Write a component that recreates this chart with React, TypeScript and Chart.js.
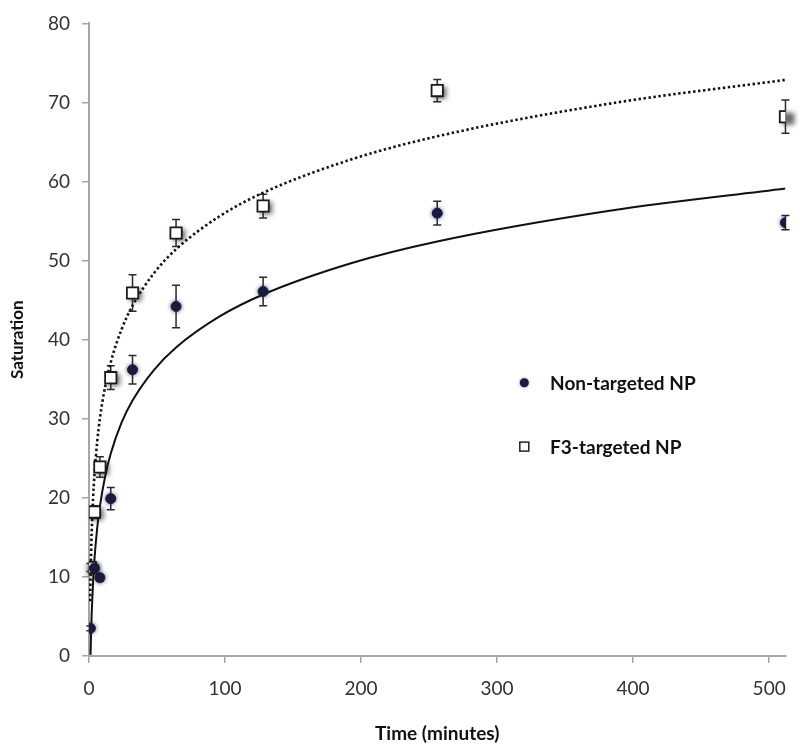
import React, { useEffect, useRef } from "react";
import { Chart, registerables } from "chart.js";

Chart.register(...registerables);

// Sampling times (minutes)
const times = [1, 4, 8, 16, 32, 64, 128, 256, 512];
// Non-targeted NP
const nonTargeted = [3.5, 11.1, 9.9, 19.9, 36.2, 44.2, 46.1, 56.0, 54.8];
const nonTargetedErr = [0.3, 0.5, 0.4, 1.4, 1.8, 2.7, 1.8, 1.5, 0.9];
// F3-targeted NP
const f3Targeted = [11.2, 18.2, 23.9, 35.2, 45.9, 53.5, 56.9, 71.5, 68.2];
const f3TargetedErr = [0.5, 0.8, 1.3, 1.5, 2.3, 1.7, 1.5, 1.4, 2.1];

// Trend curves
const solidTrendT = [1.15, 1.5, 2, 3, 4, 6, 8, 12, 16, 24, 32, 48, 64, 96, 128, 192, 256, 384, 512];
const solidTrendY = [0.15, 2.72, 5.5, 9.42, 12.2, 16.13, 18.91, 22.83, 25.61, 29.53, 32.32, 36.23, 39.02, 42.94, 45.72, 49.64, 52.42, 56.34, 59.12];
const dottedTrendT = [0.85, 1, 1.5, 2, 3, 4, 6, 8, 12, 16, 24, 32, 48, 64, 96, 128, 192, 256, 384, 512];
const dottedTrendY = [6.93, 8.6, 12.77, 15.74, 19.92, 22.88, 27.06, 30.02, 34.19, 37.16, 41.33, 44.3, 48.47, 51.44, 55.61, 58.58, 62.75, 65.72, 69.89, 72.86];

const xTicks = [0, 100, 200, 300, 400, 500];
const yTicks = [0, 10, 20, 30, 40, 50, 60, 70, 80];

const legendLabels = ["Non-targeted NP", "F3-targeted NP"];

const CIRCLE = "#1b1b3d";
const AXIS = "#a6a6a6";
const FONT = "Lato, 'Open Sans', sans-serif";

const errorBarPlugin = {
  id: "errorBars",
  beforeDatasetsDraw(chart: any) {
    const { ctx, scales } = chart;
    const xs = scales.x;
    const ys = scales.y;
    // soft shadows under the square markers (shadow only, shape drawn off-canvas)
    const OFF = 5000;
    ctx.save();
    ctx.fillStyle = "#000";
    ctx.shadowColor = "rgba(0,0,0,0.6)";
    ctx.shadowBlur = 5;
    ctx.shadowOffsetX = OFF + 3;
    ctx.shadowOffsetY = 2;
    f3Targeted.forEach((v, i) => {
      const x = xs.getPixelForValue(times[i]);
      const y = ys.getPixelForValue(v);
      ctx.fillRect(x - 6 - OFF, y - 6, 12, 12);
    });
    ctx.restore();

    const sets = [
      { vals: nonTargeted, errs: nonTargetedErr },
      { vals: f3Targeted, errs: f3TargetedErr },
    ];
    ctx.save();
    ctx.strokeStyle = "#2a2a2a";
    ctx.lineWidth = 1.5;
    sets.forEach((s) => {
      s.vals.forEach((v, i) => {
        const x = xs.getPixelForValue(times[i]);
        const y1 = ys.getPixelForValue(v - s.errs[i]);
        const y2 = ys.getPixelForValue(v + s.errs[i]);
        ctx.beginPath();
        ctx.moveTo(x, y1);
        ctx.lineTo(x, y2);
        ctx.moveTo(x - 4, y1);
        ctx.lineTo(x + 4, y1);
        ctx.moveTo(x - 4, y2);
        ctx.lineTo(x + 4, y2);
        ctx.stroke();
      });
    });
    ctx.restore();
  },
  beforeDatasetDraw(chart: any, args: any) {
    const ctx = chart.ctx;
    ctx.save();
    if (args.index === 0) {
      ctx.shadowColor = "rgba(30,30,90,0.6)";
      ctx.shadowBlur = 4;
      ctx.shadowOffsetX = 0;
      ctx.shadowOffsetY = 0;
    }
  },
  afterDatasetDraw(chart: any) {
    chart.ctx.restore();
  },
};

const customLegendPlugin = {
  id: "customLegend",
  afterDraw(chart: any) {
    const { ctx, chartArea } = chart;
    const w = chartArea.right - chartArea.left;
    const h = chartArea.bottom - chartArea.top;
    const mx = chartArea.left + w * 0.625;
    const tx = chartArea.left + w * 0.662;
    const y1 = chartArea.top + h * 0.568;
    const y2 = chartArea.top + h * 0.669;
    ctx.save();
    // circle
    ctx.fillStyle = CIRCLE;
    ctx.shadowColor = "rgba(30,30,90,0.5)";
    ctx.shadowBlur = 3;
    ctx.beginPath();
    ctx.arc(mx, y1, 4.5, 0, Math.PI * 2);
    ctx.fill();
    ctx.shadowBlur = 0;
    ctx.shadowColor = "transparent";
    // square
    ctx.fillStyle = "#fff";
    ctx.strokeStyle = "#222";
    ctx.lineWidth = 1.5;
    ctx.fillRect(mx - 4.5, y2 - 4.5, 9, 9);
    ctx.strokeRect(mx - 4.5, y2 - 4.5, 9, 9);
    ctx.fillStyle = "#111";
    ctx.font = `bold 19px ${FONT}`;
    ctx.textBaseline = "middle";
    ctx.textAlign = "left";
    ctx.fillText(legendLabels[0], tx, y1 + 1);
    ctx.fillText(legendLabels[1], tx, y2 + 1);
    ctx.restore();
  },
};

export default function App() {
  const ref = useRef<HTMLCanvasElement | null>(null);

  useEffect(() => {
    if (!ref.current) return;
    const chart = new Chart(ref.current, {
      type: "scatter",
      data: {
        datasets: [
          {
            label: legendLabels[0],
            data: times.map((t, i) => ({ x: t, y: nonTargeted[i] })),
            pointStyle: "circle",
            pointRadius: 5,
            pointBackgroundColor: CIRCLE,
            pointBorderColor: CIRCLE,
            pointBorderWidth: 1,
            showLine: false,
          },
          {
            label: legendLabels[1],
            data: times.map((t, i) => ({ x: t, y: f3Targeted[i] })),
            pointStyle: "rect",
            pointRadius: 8,
            pointBackgroundColor: "#ffffff",
            pointBorderColor: "#1a1a1a",
            pointBorderWidth: 1.8,
            showLine: false,
          },
          {
            label: "fit-solid",
            data: solidTrendT.map((t, i) => ({ x: t, y: solidTrendY[i] })),
            showLine: true,
            pointRadius: 0,
            borderColor: "#111",
            borderWidth: 2,
            cubicInterpolationMode: "monotone",
          },
          {
            label: "fit-dotted",
            data: dottedTrendT.map((t, i) => ({ x: t, y: dottedTrendY[i] })),
            showLine: true,
            pointRadius: 0,
            borderColor: "#111",
            borderWidth: 2.6,
            borderDash: [2.4, 2.6],
            cubicInterpolationMode: "monotone",
          },
        ],
      },
      options: {
        animation: false,
        responsive: true,
        maintainAspectRatio: false,
        layout: { padding: { top: 21, right: 14, left: 0, bottom: 0 } },
        plugins: {
          legend: { display: false },
          tooltip: { enabled: false },
        },
        scales: {
          x: {
            type: "linear",
            min: 0,
            max: 512,
            afterBuildTicks: (scale: any) => {
              scale.ticks = xTicks.map((v) => ({ value: v }));
            },
            afterFit: (scale: any) => {
              scale.height = 95;
            },
            grid: {
              display: true,
              drawOnChartArea: false,
              drawTicks: true,
              tickLength: 7,
              color: AXIS,
              lineWidth: 1.5,
            },
            border: { display: true, color: AXIS, width: 2 },
            ticks: {
              color: "#333",
              font: { family: FONT, size: 19 },
              padding: 14,
              maxRotation: 0,
            },
            title: {
              display: true,
              text: "Time (minutes)",
              color: "#111",
              font: { family: FONT, size: 19, weight: "bold" },
              padding: { top: 0, bottom: 6 },
            },
          },
          y: {
            type: "linear",
            min: 0,
            max: 80,
            afterBuildTicks: (scale: any) => {
              scale.ticks = yTicks.map((v) => ({ value: v }));
            },
            afterFit: (scale: any) => {
              scale.width = 89;
            },
            grid: {
              display: true,
              drawOnChartArea: false,
              drawTicks: true,
              tickLength: 7,
              color: AXIS,
              lineWidth: 1.5,
            },
            border: { display: true, color: AXIS, width: 2 },
            ticks: {
              color: "#333",
              font: { family: FONT, size: 19 },
              padding: 12,
            },
            title: {
              display: true,
              text: "Saturation",
              color: "#111",
              font: { family: FONT, size: 17, weight: "bold" },
              padding: { top: 7, bottom: 0 },
            },
          },
        },
      },
      plugins: [errorBarPlugin, customLegendPlugin],
    } as any);
    return () => chart.destroy();
  }, []);

  return (
    <div style={{ position: "fixed", left: 0, top: 0, width: 800, height: 751, background: "#fff" }}>
      <canvas ref={ref} />
    </div>
  );
}
